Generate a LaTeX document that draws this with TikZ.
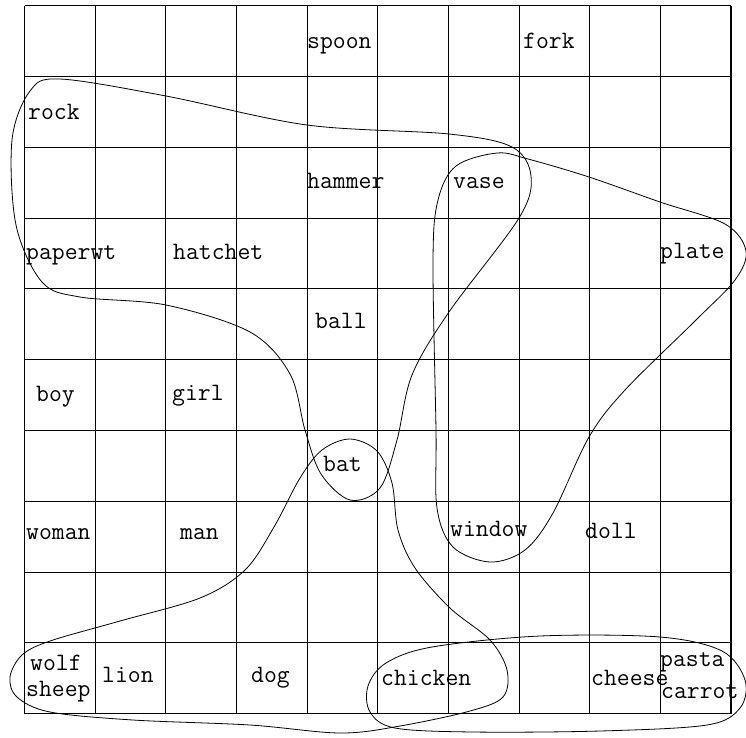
\documentclass[tikz,border=0pt]{standalone}
\begin{document}
\begin{tikzpicture}[x=1pt,y=-1pt,
  gridline/.style={line width=1.1pt},
  blob/.style={line width=0.8pt, smooth cycle, tension=0.55},
  lab/.style={anchor=base west, inner sep=0pt, font=\fontsize{25}{25}\selectfont\ttfamily}]
\useasboundingbox (0,0) rectangle (746,737);
% grid
\foreach \i in {0,...,10} {
  \draw[gridline] ({24.5+70.65*\i},5.7) -- ({24.5+70.65*\i},713.7);
  \draw[gridline] (24.5,{5.7+70.8*\i}) -- (731,{5.7+70.8*\i});
}
% labels
\node[lab] (spoon) at (307,48) {spoon};
\node[lab] (fork) at (523,48) {fork};
\node[lab] (rock) at (28,119) {rock};
\node[lab] (hammer) at (307,188) {hammer};
\node[lab] (vase) at (453,188) {vase};
\node[lab] (paperwt) at (26,259) {paperwt};
\node[lab] (hatchet) at (173,259) {hatchet};
\node[lab] (plate) at (660,258) {plate};
\node[lab] (ball) at (315,328) {ball};
\node[lab] (boy) at (36,401) {boy};
\node[lab] (girl) at (172,400.5) {girl};
\node[lab] (bat) at (323,471.5) {bat};
\node[lab] (woman) at (26,539) {woman};
\node[lab] (man) at (180,539) {man};
\node[lab] (window) at (450,536) {window};
\node[lab] (doll) at (585,538.5) {doll};
\node[lab] (wolf) at (30,670) {wolf};
\node[lab] (sheep) at (26,696.5) {sheep};
\node[lab] (lion) at (102,682.5) {lion};
\node[lab] (dog) at (251,682.5) {dog};
\node[lab] (chicken) at (381,685) {chicken};
\node[lab] (cheese) at (591,685) {cheese};
\node[lab] (pasta) at (660,666.5) {pasta};
\node[lab] (carrot) at (661,698) {carrot};
% curve A
\draw[blob] plot coordinates {(60,79) (166,96) (307,125) (449,134) (512,147) (531,176) (519,218) (449,312) (412,375) (397,440) (380,488) (350,500) (321,474) (305,430) (290,374) (250,332) (166,305) (80,297) (42,282) (16,225) (12,140) (30,91)};
% curve C
\draw[blob] plot coordinates {(497,153) (456,166) (438,200) (433,260) (436,430) (437,508) (453,547) (490,562) (525,550) (553,513) (589,437) (625,390) (696,320) (735,280) (746,251) (725,224) (660,202) (589,177) (528,159)};
% curve B
\draw[blob] plot coordinates {(350,439) (377,451) (392,483) (398,530) (415,568) (450,608) (490,640) (507,670) (503,697) (470,711) (400,726) (340,733) (250,725) (133,720) (50,712) (17,697) (10,677) (22,655) (50,641) (120,621) (200,598) (245,570) (274,527) (300,478) (322,450)};
% curve D
\draw[blob] plot coordinates {(540,636) (660,637) (722,651) (745,680) (740,708) (707,725) (600,731) (473,732) (395,728) (370,712) (368,686) (386,663) (432,647)};
\end{tikzpicture}
\end{document}
